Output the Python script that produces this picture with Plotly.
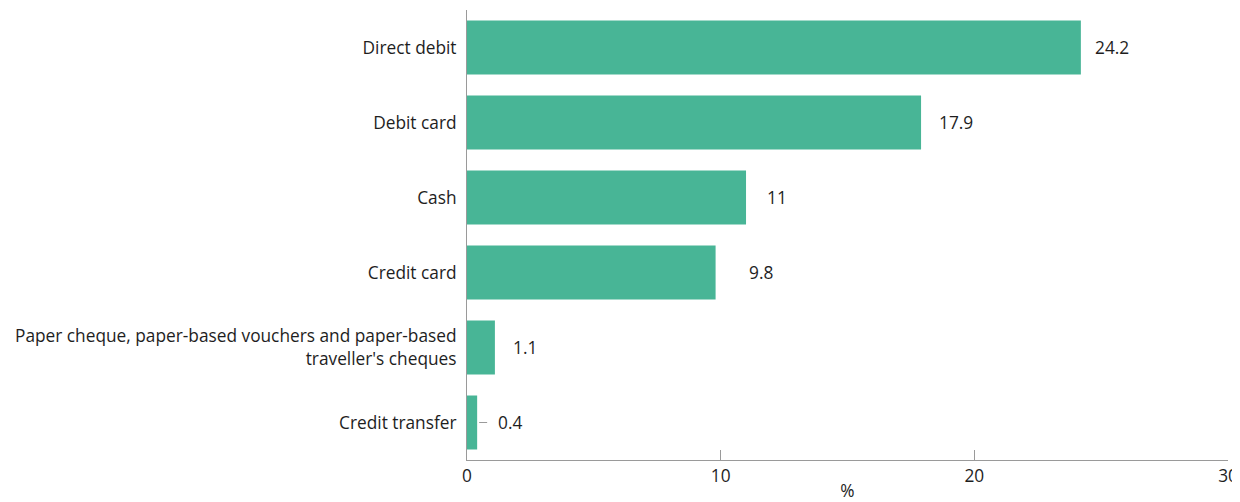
import plotly.graph_objects as go

categories = ["Credit transfer",
              "Paper cheque, paper-based vouchers and paper-based<br>traveller's cheques",
              "Credit card", "Cash", "Debit card", "Direct debit"]
values = [0.4, 1.1, 9.8, 11, 17.9, 24.2]
value_labels = ["0.4", "1.1", "9.8", "11", "17.9", "24.2"]
label_shift = [19, 16, 31, 19, 16, 12]
x_ticks = [0, 10, 20, 30]

BAR = "#48b596"
TXT = "#1e1e1e"
AX = "#9a9a9a"
FONT = "Open Sans"
FS = 17.3

fig = go.Figure(go.Bar(
    y=categories, x=values, orientation="h",
    marker=dict(color=BAR, line=dict(width=0)),
    width=0.72, hoverinfo="skip"))

for c, v, t, s in zip(categories, values, value_labels, label_shift):
    fig.add_annotation(x=v, y=c, text=t, showarrow=False, xanchor="left",
                       xshift=s, font=dict(family=FONT, size=FS, color=TXT))

# small leader line for the smallest value
fig.add_shape(type="line", xref="x", yref="y", xsizemode="pixel",
              xanchor=values[0], x0=2, x1=10, y0=categories[0], y1=categories[0],
              line=dict(color=AX, width=1))

fig.update_layout(
    width=1232, height=494,
    margin=dict(l=459, r=12, t=2, b=42),
    plot_bgcolor="white", paper_bgcolor="white",
    showlegend=False,
    font=dict(family=FONT, size=FS, color=TXT),
    xaxis=dict(range=[0, 30], tickvals=x_ticks, ticks="inside", ticklen=10,
               tickcolor=AX, showline=True, linecolor=AX, linewidth=1,
               showgrid=False, zeroline=False, automargin=False,
               ticklabeloverflow="allow",
               tickfont=dict(family=FONT, size=FS, color=TXT),
               title=dict(text="%", standoff=0,
                          font=dict(family=FONT, size=FS, color=TXT))),
    yaxis=dict(categoryorder="array", categoryarray=categories,
               range=[-0.5, 5.5], showline=True, linecolor=AX, linewidth=1,
               ticks="", showgrid=False, zeroline=False, ticklabelstandoff=6,
               automargin=False,
               tickfont=dict(family=FONT, size=FS, color=TXT)),
)

fig.write_html("out.html")
